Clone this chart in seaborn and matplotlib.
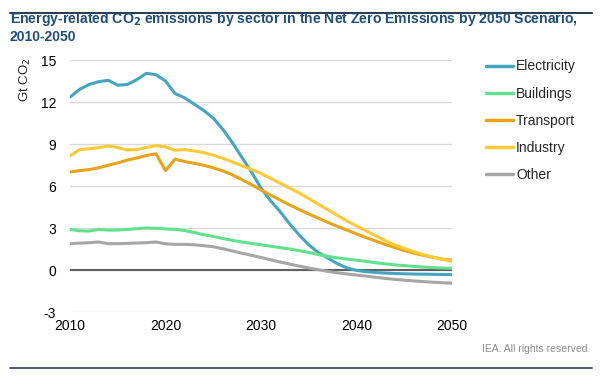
import numpy as np
import pandas as pd
import matplotlib
matplotlib.use("Agg")
import matplotlib.pyplot as plt
import seaborn as sns

years = list(range(2010, 2051))

electricity = [12.35, 12.9, 13.25, 13.45, 13.55, 13.2, 13.25, 13.6, 14.05, 13.95,
               13.5, 12.6, 12.3, 11.85, 11.4, 10.85, 10.05, 9.1, 8.05, 7.0,
               5.85, 4.95, 4.17, 3.3, 2.5, 1.8, 1.25, 0.85, 0.45, 0.15,
               -0.03, -0.12, -0.18, -0.22, -0.25, -0.27, -0.29, -0.3, -0.31, -0.32, -0.33]
buildings = [2.9, 2.8, 2.78, 2.9, 2.85, 2.85, 2.9, 2.95, 3.0, 2.98,
             2.93, 2.9, 2.82, 2.68, 2.52, 2.4, 2.25, 2.12, 2.0, 1.9,
             1.8, 1.7, 1.6, 1.5, 1.38, 1.26, 1.1, 0.97, 0.87, 0.78,
             0.7, 0.62, 0.52, 0.44, 0.37, 0.31, 0.26, 0.21, 0.17, 0.14, 0.12]
transport = [7.0, 7.1, 7.17, 7.3, 7.48, 7.65, 7.85, 8.0, 8.18, 8.3,
             7.1, 7.92, 7.75, 7.62, 7.48, 7.3, 7.08, 6.8, 6.45, 6.1,
             5.72, 5.35, 5.0, 4.65, 4.32, 4.0, 3.7, 3.4, 3.12, 2.85,
             2.58, 2.32, 2.07, 1.83, 1.6, 1.4, 1.2, 1.05, 0.9, 0.78, 0.7]
industry = [8.15, 8.6, 8.65, 8.75, 8.85, 8.75, 8.57, 8.6, 8.75, 8.88,
            8.8, 8.55, 8.6, 8.5, 8.38, 8.2, 7.98, 7.72, 7.45, 7.18,
            6.9, 6.55, 6.2, 5.85, 5.5, 5.1, 4.7, 4.3, 3.9, 3.5,
            3.15, 2.8, 2.45, 2.1, 1.8, 1.55, 1.3, 1.1, 0.92, 0.77, 0.62]
other = [1.88, 1.92, 1.95, 2.0, 1.88, 1.88, 1.9, 1.93, 1.95, 2.0,
         1.87, 1.83, 1.83, 1.8, 1.74, 1.66, 1.52, 1.36, 1.2, 1.05,
         0.9, 0.73, 0.57, 0.42, 0.28, 0.14, 0.02, -0.1, -0.2, -0.28,
         -0.36, -0.44, -0.52, -0.6, -0.67, -0.73, -0.78, -0.83, -0.87, -0.91, -0.94]

sectors = ["Electricity", "Buildings", "Transport", "Industry", "Other"]
colors = ["#45a5c0", "#62e08e", "#e8a31a", "#fdc934", "#a6a6a6"]

df = pd.DataFrame({"year": years, "Electricity": electricity, "Buildings": buildings,
                   "Transport": transport, "Industry": industry, "Other": other})
long = df.melt(id_vars="year", var_name="sector", value_name="value")

sns.set_style("white")
plt.rcParams['font.family'] = ['Liberation Sans', 'DejaVu Sans']
plt.rcParams['axes.unicode_minus'] = False

fig = plt.figure(figsize=(6.06, 3.77), dpi=100)
ax = fig.add_axes([70/606, 1-312/377, (452-70)/606, (312-60)/377])

ax.set_yticks(np.arange(-3, 16, 3))
ax.yaxis.grid(True, color="#d9d9d9", linewidth=1)
ax.set_axisbelow(True)
ax.axhline(0, color="#606060", linewidth=1.5, zorder=1)

sns.lineplot(data=long, x="year", y="value", hue="sector", hue_order=sectors,
             palette=colors, linewidth=2.2, ax=ax, legend=True)

ax.set_xlim(2010, 2050)
ax.set_ylim(-3, 15)
ax.set_xticks([2010, 2020, 2030, 2040, 2050])
ax.tick_params(axis="both", length=0, labelsize=10, colors="black")
ax.tick_params(axis="y", pad=10)
ax.tick_params(axis="x", pad=5)
for s in ax.spines.values():
    s.set_visible(False)
ax.set_xlabel("")
ax.set_ylabel("")

leg = ax.legend(loc="upper left", bbox_to_anchor=(1.055, 1.052), frameon=False,
                fontsize=10, handlelength=2.0, handletextpad=0.2, labelspacing=0.95)
for line in leg.get_lines():
    line.set_linewidth(2.5)

fig.text(25/606, 1-80/377, "Gt CO$_2$", rotation=90, ha="center", va="center", fontsize=9.5)

fig.text(10/606, 1-27/377,
         "Energy-related CO$_\\mathbf{2}$ emissions by sector in the Net Zero Emissions by 2050 Scenario,\n2010-2050",
         fontsize=10.1, fontweight="bold", color="#1f4e79", ha="left", va="center", linespacing=1.15)

fig.add_artist(plt.Line2D([10/606, 592/606], [1-13/377, 1-13/377], color="#2d3e50", linewidth=1.5))
fig.add_artist(plt.Line2D([10/606, 592/606], [1-368/377, 1-368/377], color="#2d3e50", linewidth=1.2))
fig.text(590/606, 1-349/377, "IEA. All rights reserved.", fontsize=7.5, color="#8c8c8c",
         ha="right", va="center")

fig.savefig("out.png", dpi=100)
